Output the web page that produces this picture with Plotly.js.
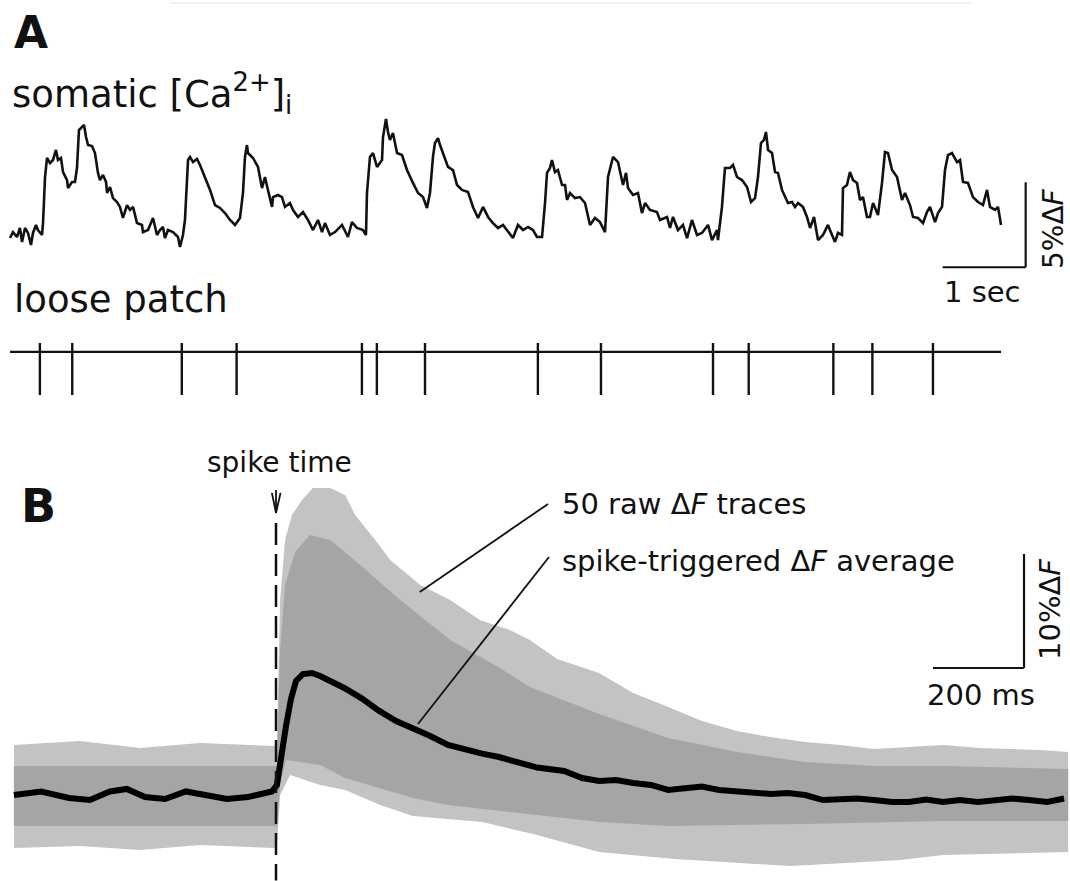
<!DOCTYPE html>
<html><head><meta charset="utf-8">
<script src="https://cdn.plot.ly/plotly-3.0.1.min.js"></script>
<style>html,body{margin:0;padding:0;background:#fff}#chart{width:1070px;height:881px}</style>
</head><body><div id="chart"></div>
<script>
// ---------- Panel A: somatic [Ca2+]i trace (time in s, dF in %) ----------
const caTime = [
0,0.036,0.084,0.120,0.145,0.181,0.217,0.253,0.277,0.313,
0.337,0.386,0.398,0.422,0.446,0.482,0.518,0.554,0.578,0.614,
0.639,0.687,0.699,0.747,0.783,0.807,0.831,0.867,0.892,0.916,
0.940,0.988,1.024,1.060,1.084,1.120,1.157,1.169,1.205,1.241,
1.289,1.325,1.361,1.410,1.446,1.482,1.530,1.590,1.602,1.663,
1.723,1.771,1.807,1.843,1.867,1.904,1.964,2.024,2.048,2.084,
2.108,2.145,2.169,2.205,2.253,2.289,2.349,2.410,2.470,2.530,
2.590,2.651,2.711,2.771,2.807,2.831,2.855,2.867,2.928,2.988,
3.036,3.072,3.108,3.157,3.169,3.229,3.277,3.313,3.373,3.410,
3.470,3.530,3.590,3.651,3.711,3.759,3.795,3.855,3.916,4.000,
4.072,4.120,4.181,4.253,4.289,4.301,4.337,4.373,4.422,4.482,
4.494,4.530,4.554,4.578,4.614,4.663,4.723,4.783,4.855,4.916,
4.976,5.024,5.060,5.096,5.120,5.157,5.181,5.241,5.277,5.337,
5.386,5.446,5.518,5.578,5.639,5.699,5.759,5.819,5.880,5.940,
6.012,6.060,6.120,6.181,6.241,6.301,6.349,6.410,6.446,6.470,
6.506,6.530,6.566,6.602,6.651,6.687,6.711,6.747,6.807,6.867,
6.928,6.988,7.048,7.108,7.169,7.205,7.265,7.325,7.386,7.422,
7.446,7.506,7.566,7.614,7.651,7.711,7.795,7.831,7.916,7.952,
7.988,8.048,8.108,8.157,8.217,8.277,8.337,8.410,8.458,8.518,
8.530,8.578,8.614,8.675,8.711,8.759,8.819,8.880,8.928,8.976,
9.012,9.048,9.084,9.108,9.133,9.181,9.217,9.253,9.301,9.337,
9.373,9.422,9.458,9.494,9.554,9.602,9.639,9.687,9.735,9.795,
9.855,9.904,9.940,9.976,10.024,10.036,10.084,10.120,10.157,10.205,
10.241,10.277,10.325,10.361,10.398,10.458,10.506,10.542,10.578,10.627,
10.687,10.747,10.783,10.843,10.880,10.940,11.000,11.048,11.084,11.145,
11.181,11.229,11.265,11.301,11.349,11.410,11.446,11.482,11.542,11.602,
11.663,11.723,11.771,11.807,11.867,11.904,11.940];
const caDF = [
0.41,0.76,0.47,1.00,0.18,1.00,0.71,0.00,0.71,1.18,
0.88,0.59,1.29,4.00,5.12,4.82,5.00,5.59,5.00,5.12,
4.29,3.82,3.35,3.71,3.71,4.53,6.76,6.94,7.06,6.35,
5.88,5.82,5.41,4.24,3.82,4.12,3.71,3.06,3.41,2.76,
2.53,2.24,1.59,2.35,2.06,2.24,1.29,1.18,0.76,0.88,
1.59,0.59,0.88,1.06,0.41,0.88,0.76,0.47,-0.12,0.59,
1.47,5.00,5.18,4.88,5.06,4.71,4.00,3.24,2.35,2.18,
1.88,1.47,1.18,1.59,3.06,5.18,5.88,5.41,5.12,4.59,
3.35,4.00,3.24,2.24,2.82,2.94,2.82,2.24,2.47,2.06,
1.65,1.94,1.47,0.88,1.47,0.76,1.29,0.59,0.76,1.18,
0.47,1.35,1.00,0.88,0.59,3.06,5.18,5.41,4.59,5.00,
6.35,7.41,6.65,6.18,6.59,5.41,5.29,4.41,3.65,3.06,
2.82,2.18,3.06,5.18,6.00,6.29,5.88,5.00,4.59,4.41,
3.53,3.24,3.12,2.24,1.59,2.24,1.65,1.29,1.00,1.18,
0.71,0.41,1.18,0.88,1.06,0.88,0.47,0.47,2.47,4.24,
4.53,5.00,4.29,4.41,3.53,3.53,2.65,3.06,2.76,2.82,
2.47,1.18,1.59,1.35,0.76,4.00,5.18,4.88,3.53,4.24,
3.35,2.94,3.06,1.88,2.47,2.06,1.94,1.47,1.65,1.00,
1.65,0.88,1.18,0.41,1.47,0.59,0.71,1.18,0.29,0.88,
0.29,2.24,4.53,4.53,4.71,4.00,3.82,3.41,2.53,2.76,
4.00,6.00,6.18,6.65,5.59,5.41,4.29,4.24,3.24,2.82,
2.47,2.53,2.24,2.47,2.24,1.65,1.00,1.65,0.29,0.59,
1.18,0.59,0.18,0.71,0.59,3.35,3.53,4.29,3.82,3.65,
2.65,2.82,1.65,1.65,2.47,1.76,3.65,5.47,5.41,4.41,
4.00,2.65,3.06,2.35,1.65,1.59,1.29,1.94,2.24,1.35,
1.88,2.24,4.41,5.29,5.41,4.88,5.00,3.71,3.65,2.82,
2.53,2.35,3.24,2.24,2.06,2.24,1.18];
// loose-patch spike times (s)
const spikeTimes = [0.36,0.75,2.07,2.73,4.24,4.42,5.00,6.36,7.12,8.47,8.90,9.92,10.39,11.12];

// ---------- Panel B: spike-triggered average (time in ms, dF in %) ----------
const avgTime = [-576,-516,-455,-409,-365,-328,-288,-244,-198,-152,
-108,-62,-9,2,11,22,33,44,59,79,
97,121,150,189,226,264,301,339,378,415,
453,490,528,574,633,673,710,747,785,824,
862,899,936,974,1013,1051,1088,1125,1163,1202,
1240,1277,1314,1354,1391,1429,1466,1503,1543,1580,
1618,1655,1695,1732];
const avgDF = [0,0.31,-0.26,-0.44,0.31,0.53,-0.18,-0.35,0.31,0,
-0.35,-0.18,0.31,0.88,3.60,6.05,8.46,10.0,10.61,10.70,
10.44,10.0,9.39,8.46,7.40,6.49,5.88,5.18,4.39,3.95,
3.63,3.33,2.89,2.41,2.11,1.49,1.23,1.32,1.05,0.88,
0.44,0.61,0.75,0.44,0.30,0.18,0.09,0.18,0,-0.44,
-0.31,-0.31,-0.44,-0.61,-0.61,-0.39,-0.61,-0.44,-0.61,-0.44,
-0.31,-0.44,-0.61,-0.31];
// envelope of the 50 raw dF traces: outer extremes and dense core
const rawUpOuterT = [-576,-431,-299,-167,-4,2,9,20,35,57,81,119,152,174,218,251,317,383,448,514,558,618,710,785,862,936,1013,1086,1163,1240,1314,1394,1466,1547,1618,1679,1741];
const rawUpOuterDF = [4.39,4.74,4.12,4.56,4.30,4.30,17.11,22.37,24.56,25.88,26.93,26.93,26.32,24.56,22.37,20.61,18.42,17.11,15.35,14.47,13.60,11.93,10.70,8.95,7.72,6.49,5.61,5.09,4.65,4.39,4.04,4.21,4.39,4.12,4.04,3.95,3.77];
const rawLowOuterT = [-576,-431,-299,-167,-4,2,9,31,97,152,229,301,378,453,574,710,877,1130,1372,1466,1741];
const rawLowOuterDF = [-4.65,-4.47,-4.82,-4.39,-4.65,-4.65,0.0,1.75,0.88,0.44,-0.88,-1.84,-2.11,-2.37,-3.51,-5.00,-5.61,-6.23,-5.70,-5.26,-5.00];
const rawUpCoreT = [-576,-4,2,9,20,42,75,119,185,273,383,492,558,710,862,1013,1163,1314,1466,1741];
const rawUpCoreDF = [2.54,2.54,2.54,12.72,18.42,21.32,22.81,22.37,20.18,17.11,13.60,11.14,9.47,7.11,5.00,3.77,2.89,2.54,2.54,2.28];
const rawLowCoreT = [-576,-4,2,9,22,97,152,229,301,378,453,574,712,862,1163,1466,1741];
const rawLowCoreDF = [-2.72,-2.72,-2.72,0.88,3.07,2.63,1.49,0.61,-0.26,-0.88,-1.23,-1.75,-2.37,-2.72,-2.54,-2.28,-2.28];

// ---------- layout geometry ----------
const W = 1070, H = 881;
const PX = x => x / W, PY = y => 1 - y / H;
const A_PX_PER_S = 83, A_PX_PER_PCT = 17, A_X0 = 10, A_Y0 = 245;   // panel A scale
const B_PX_PER_MS = 0.455, B_PX_PER_PCT = 11.4, B_X0 = 276, B_Y0 = 795; // panel B scale
const FONT = 'DejaVu Sans';
const INK = '#111';

function poly(t1, v1, t2, v2) {
  return { x: t1.concat(t2.slice().reverse()), y: v1.concat(v2.slice().reverse()) };
}
const outer = poly(rawUpOuterT, rawUpOuterDF, rawLowOuterT, rawLowOuterDF);
const core = poly(rawUpCoreT, rawUpCoreDF, rawLowCoreT, rawLowCoreDF);

const tickX = [], tickY = [];
spikeTimes.forEach(t => { tickX.push(t, t, null); tickY.push(0, 1, null); });

const traces = [
  { x: caTime, y: caDF, xaxis: 'x', yaxis: 'y', mode: 'lines', line: { color: INK, width: 2.6 } },
  { x: [caTime[0], caTime[caTime.length - 1]], y: [0.83, 0.83], xaxis: 'x', yaxis: 'y3', mode: 'lines', line: { color: INK, width: 2.2 } },
  { x: tickX, y: tickY, xaxis: 'x', yaxis: 'y3', mode: 'lines', line: { color: INK, width: 2.4 } },
  { x: outer.x, y: outer.y, xaxis: 'x2', yaxis: 'y2', mode: 'lines', fill: 'toself', fillcolor: '#c3c3c3', line: { width: 0, color: '#c3c3c3' } },
  { x: core.x, y: core.y, xaxis: 'x2', yaxis: 'y2', mode: 'lines', fill: 'toself', fillcolor: '#a5a5a5', line: { width: 0, color: '#a5a5a5' } },
  { x: avgTime, y: avgDF, xaxis: 'x2', yaxis: 'y2', mode: 'lines', line: { color: '#000', width: 6 } }
];

// scale bars and markers (physical units)
const sbA = { t: 12.237, df: -1.31, dt: 1, ddf: 5 };
const sbB = { t: 1644, df: 11.14, dt: 200, ddf: 10 };
function seg(xref, yref, x0, y0, x1, y1, w, dash) {
  return { type: 'line', xref, yref, x0, y0, x1, y1, line: { color: INK, width: w || 2.2, dash: dash || 'solid' } };
}
const shapes = [
  seg('x', 'y', sbA.t - sbA.dt, sbA.df, sbA.t, sbA.df),
  seg('x', 'y', sbA.t, sbA.df, sbA.t, sbA.df + sbA.ddf),
  seg('x2', 'y2', sbB.t - sbB.dt, sbB.df, sbB.t, sbB.df),
  seg('x2', 'y2', sbB.t, sbB.df, sbB.t, sbB.df + sbB.ddf),
  seg('x2', 'y2', 0, 23.86, 0, -7.5, 2.5, '22px,9px'),
  seg('x2', 'y2', 0, 26.75, 0, 24.74, 1.8),
  seg('x2', 'y2', -9, 26.5, 0, 24.74, 1.8),
  seg('x2', 'y2', 10, 26.5, 0, 24.74, 1.8),
  seg('x2', 'y2', 316, 17.81, 598, 25.53, 1.8),
  seg('x2', 'y2', 312, 6.23, 600, 20.88, 1.8),
  { type: 'line', xref: 'paper', yref: 'paper', x0: PX(170), y0: PY(3), x1: PX(972), y1: PY(3), line: { color: '#e4e4e4', width: 1 } }
];

function txt(text, x, y, size, opts) {
  return Object.assign({ text, xref: 'paper', yref: 'paper', x: PX(x), y: PY(y), showarrow: false,
    xanchor: 'left', yanchor: 'middle', font: { family: FONT, size, color: INK } }, opts || {});
}
const annotations = [
  txt('<b>A</b>', 12, 32, 44),
  txt('<b>B</b>', 19, 506, 46),
  txt('somatic [Ca<sup>2+</sup>]<sub>i</sub>', 10, 94, 37),
  txt('loose patch', 12, 299, 37),
  txt('1 sec', 982, 292, 29, { xanchor: 'center' }),
  txt('5%Δ<i>F</i>', 1053, 229, 28, { xanchor: 'center', textangle: -90 }),
  txt('spike time', 279, 462, 28, { xanchor: 'center' }),
  txt('50 raw Δ<i>F</i> traces', 560, 504, 29),
  txt('spike-triggered Δ<i>F</i> average', 560, 561, 29),
  txt('200 ms', 981, 695, 29, { xanchor: 'center' }),
  txt('10%Δ<i>F</i>', 1050, 609, 29, { xanchor: 'center', textangle: -90 })
];

const layout = {
  width: W, height: H, margin: { l: 0, r: 0, t: 0, b: 0 },
  paper_bgcolor: '#fff', plot_bgcolor: 'rgba(0,0,0,0)', showlegend: false, hovermode: false,
  xaxis: { domain: [0, 1], range: [-A_X0 / A_PX_PER_S, (W - A_X0) / A_PX_PER_S], visible: false, anchor: 'y' },
  yaxis: { domain: [PY(270), PY(100)], range: [(A_Y0 - 270) / A_PX_PER_PCT, (A_Y0 - 100) / A_PX_PER_PCT], visible: false, anchor: 'x' },
  yaxis3: { domain: [PY(398), PY(340)], range: [-3 / 52, 55 / 52], visible: false, anchor: 'x' },
  xaxis2: { domain: [0, 1], range: [-B_X0 / B_PX_PER_MS, (W - B_X0) / B_PX_PER_MS], visible: false, anchor: 'y2' },
  yaxis2: { domain: [0, PY(470)], range: [(B_Y0 - H) / B_PX_PER_PCT, (B_Y0 - 470) / B_PX_PER_PCT], visible: false, anchor: 'x2' },
  shapes, annotations
};

Plotly.newPlot('chart', traces, layout, { staticPlot: true, displayModeBar: false });
</script>
</body></html>
